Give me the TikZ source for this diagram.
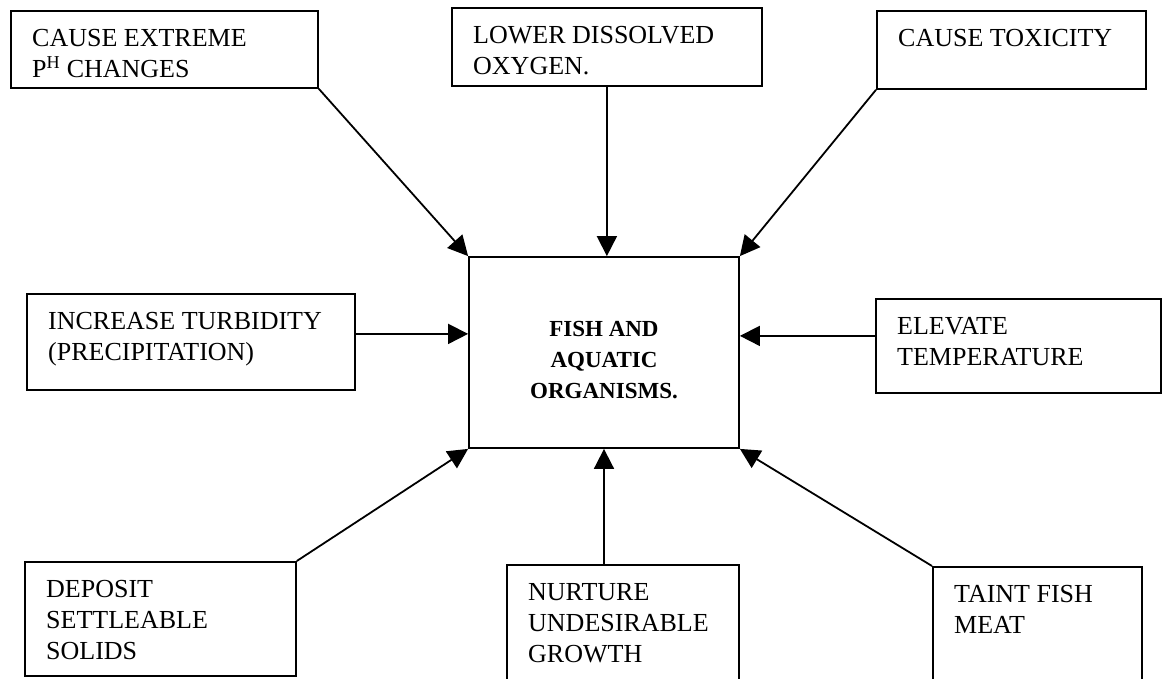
\documentclass[tikz,border=0pt]{standalone}
\usepackage{fontspec}
\setmainfont{Liberation Serif}
\usetikzlibrary{arrows.meta}
\tikzset{
  box/.style={draw, line width=1.8pt, inner sep=0pt, anchor=north west},
  txt/.style={anchor=north west, align=left, inner sep=0pt, xshift=22pt, yshift=-16pt,
              font=\fontsize{26pt}{31pt}\selectfont},
  arr/.style={line width=1.8pt, -{Triangle[length=20pt, width=20pt]}},
}
\newcommand{\fl}{\rule{0pt}{20pt}}
\begin{document}
\begin{tikzpicture}[x=1pt, y=-1pt]
\clip (0,0) rectangle (1163,678);
\fill[white] (0,0) rectangle (1163,678);
% boxes
\node[box, minimum width=307pt, minimum height=77pt,
  label={[txt]north west:{\fl CAUSE EXTREME\\P\textsuperscript{H} CHANGES}}] (b1) at (10,10) {};
\node[box, minimum width=310pt, minimum height=78pt,
  label={[txt]north west:{\fl LOWER DISSOLVED\\OXYGEN.}}] (b2) at (451,7) {};
\node[box, minimum width=269pt, minimum height=78pt,
  label={[txt]north west:{\fl CAUSE TOXICITY}}] (b3) at (876,10) {};
\node[box, minimum width=328pt, minimum height=96pt,
  label={[txt]north west:{\fl INCREASE TURBIDITY\\(PRECIPITATION)}}] (b4) at (26,293) {};
\node[box, minimum width=285pt, minimum height=94pt,
  label={[txt]north west:{\fl ELEVATE\\TEMPERATURE}}] (b6) at (875,298) {};
\node[box, minimum width=271pt, minimum height=114pt,
  label={[txt]north west:{\fl DEPOSIT\\SETTLEABLE\\SOLIDS}}] (b7) at (24,561) {};
\node[box, minimum width=232pt, minimum height=130pt,
  label={[txt]north west:{\fl NURTURE\\UNDESIRABLE\\GROWTH}}] (b8) at (506,564) {};
\node[box, minimum width=209pt, minimum height=130pt,
  label={[txt]north west:{\fl TAINT FISH\\MEAT}}] (b9) at (932,566) {};
% centre
\node[box, anchor=center, minimum width=270pt, minimum height=191pt, align=center,
  font=\bfseries\fontsize{23pt}{31pt}\selectfont] (ctr) at (604,352.5)
  {\rule{0pt}{30pt}FISH AND\\AQUATIC\\ORGANISMS.};
% connectors
\draw[arr] (b1.south east) -- (ctr.north west);
\draw[arr] (b2.south) -- (b2.south |- ctr.north);
\draw[arr] (b3.south west) -- (ctr.north east);
\coordinate (ta) at ([yshift=8pt]b4.east);
\draw[arr] (ta) -- (ta -| ctr.west);
\coordinate (ea) at ([yshift=10pt]b6.west);
\draw[arr] (ea) -- (ea -| ctr.east);
\draw[arr] (b7.north east) -- (ctr.south west);
\draw[arr] (ctr.south |- b8.north) -- (ctr.south);
\draw[arr] (b9.north west) -- (ctr.south east);
\end{tikzpicture}
\end{document}
